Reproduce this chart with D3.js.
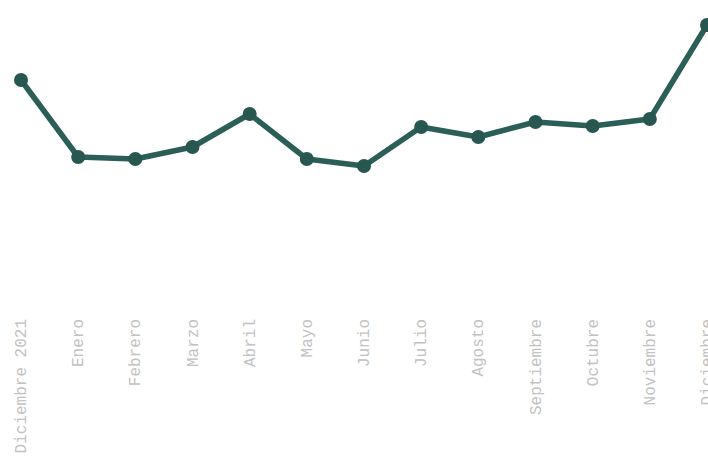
<!DOCTYPE html>
<html>
<head>
<meta charset="utf-8">
<script src="https://cdn.jsdelivr.net/npm/d3@7"></script>
<style>
  body { margin: 0; background: #fff; overflow: hidden; }
  svg { display: block; }
</style>
</head>
<body>
<div id="chart"></div>
<script>
// months shown on the x axis
const months = ['Diciembre 2021', 'Enero', 'Febrero', 'Marzo', 'Abril', 'Mayo', 'Junio',
  'Julio', 'Agosto', 'Septiembre', 'Octubre', 'Noviembre', 'Diciembre'];
// values (no axis shown, relative units)
const values = [180, 103, 101, 113, 146, 101, 94, 133, 123, 138, 134, 141, 235];

const width = 708;
const height = 458;

const svg = d3.select('#chart').append('svg')
  .attr('width', width)
  .attr('height', height);

const xScale = d3.scalePoint().domain(months).range([21, 707]);
const yScale = d3.scaleLinear().domain([0, 235]).range([260, 25]);

const data = months.map((m, i) => ({ month: m, value: values[i] }));

// x labels, rotated
svg.append('g')
  .selectAll('text')
  .data(months)
  .join('text')
  .attr('transform', d => `translate(${xScale(d) + 5}, 319) rotate(-90)`)
  .attr('text-anchor', 'end')
  .style('font-family', '"Liberation Mono", "DejaVu Sans Mono", monospace')
  .style('font-size', '16px')
  .style('fill', '#c2c2c2')
  .text(d => d);

const line = d3.line()
  .x(d => xScale(d.month))
  .y(d => yScale(d.value));

svg.append('path')
  .datum(data)
  .attr('d', line)
  .attr('fill', 'none')
  .attr('stroke', '#2a5e57')
  .attr('stroke-width', 5.5)
  .attr('stroke-linejoin', 'round');

svg.append('g')
  .selectAll('circle')
  .data(data)
  .join('circle')
  .attr('cx', d => xScale(d.month))
  .attr('cy', d => yScale(d.value))
  .attr('r', 7)
  .attr('fill', '#285650');
</script>
</body>
</html>
